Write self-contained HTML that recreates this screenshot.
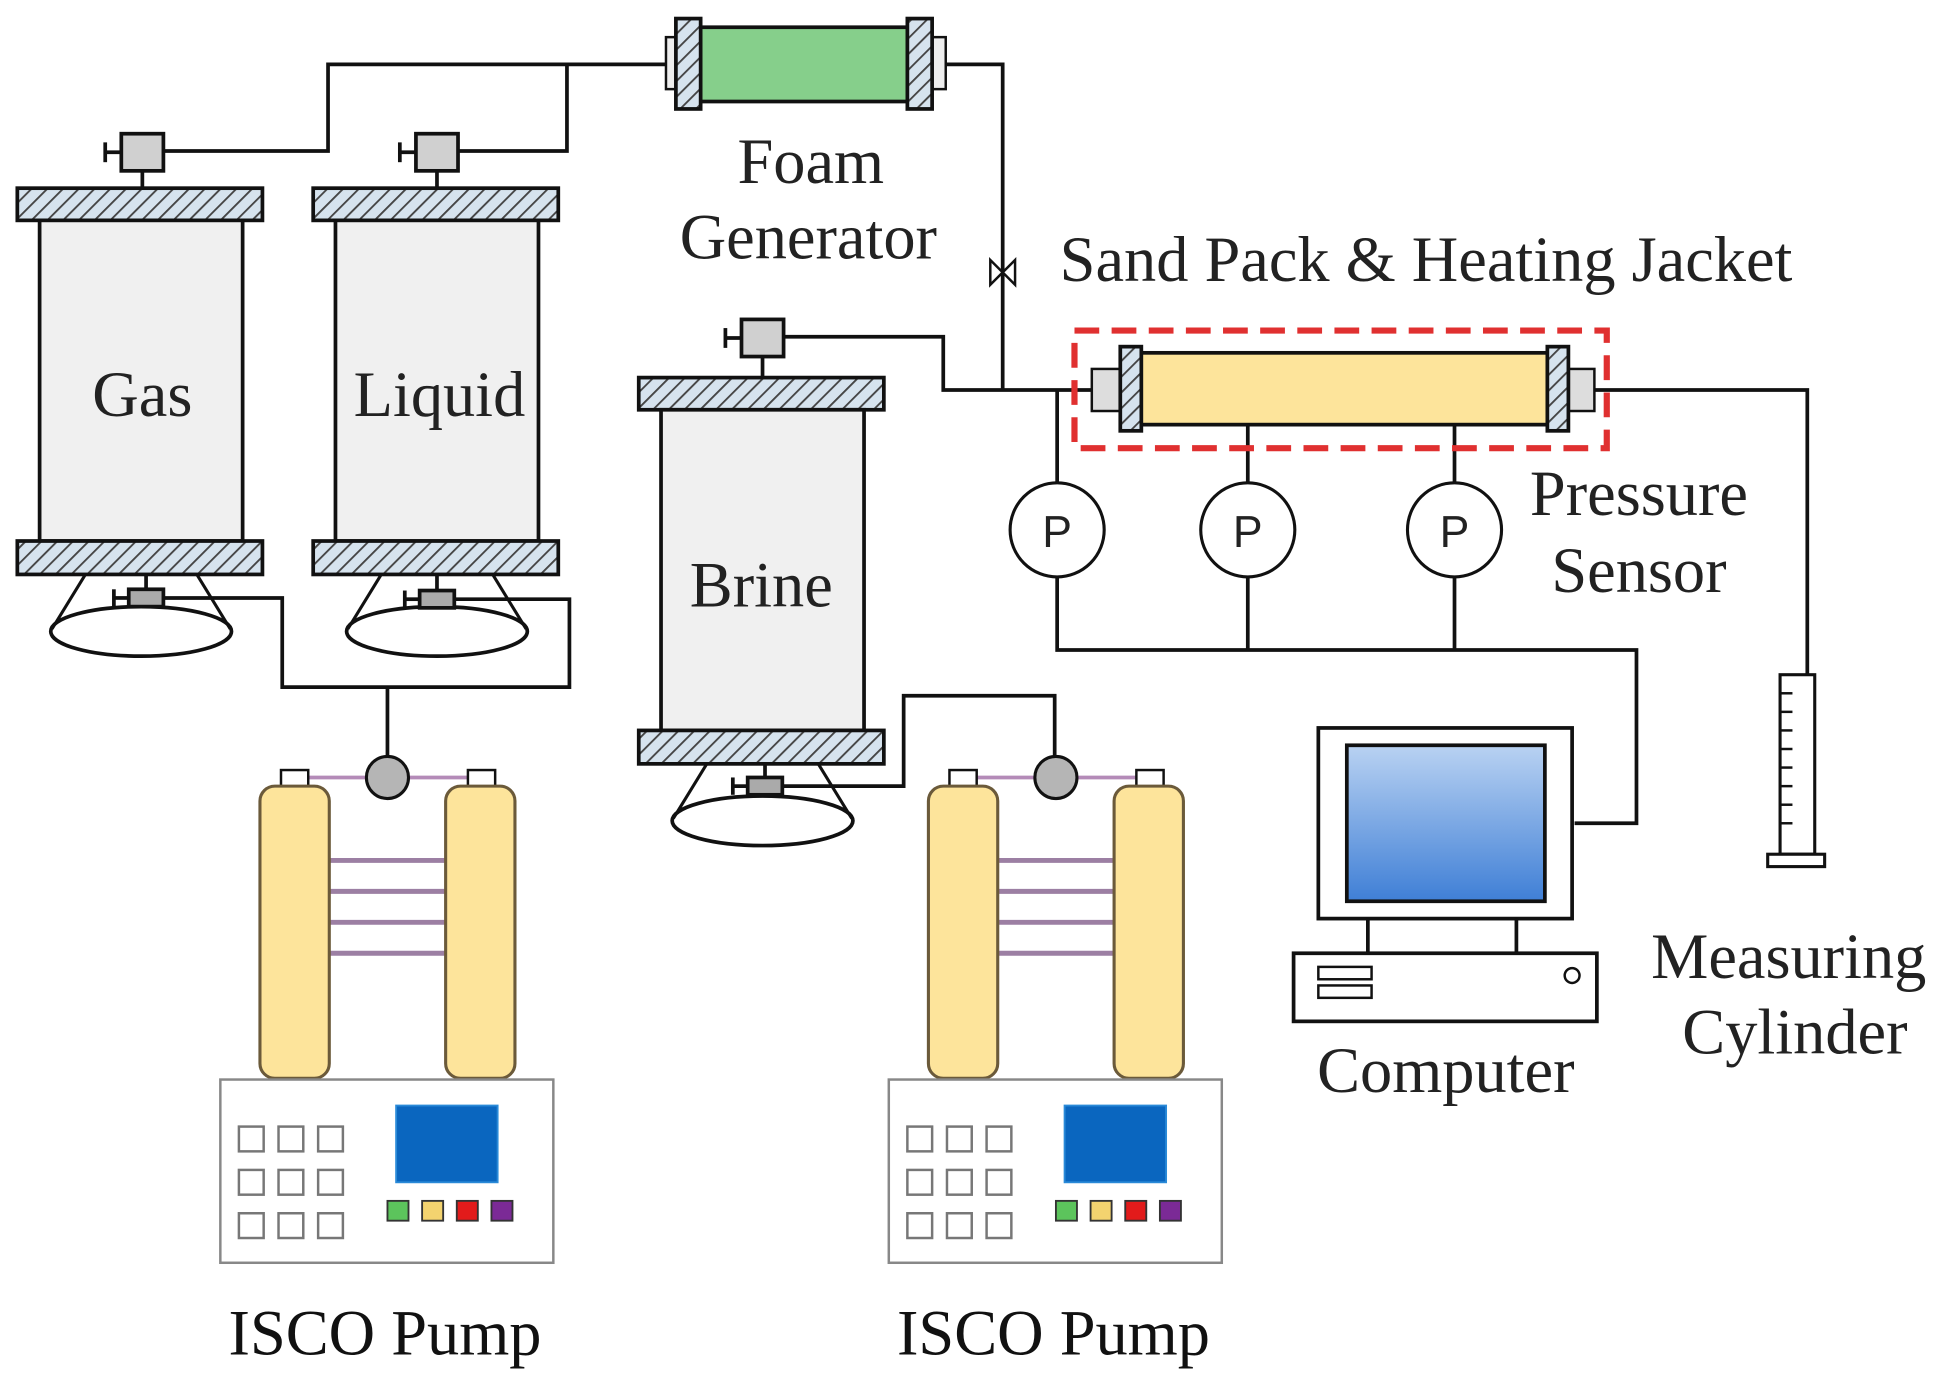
<!DOCTYPE html>
<html><head><meta charset="utf-8"><style>html,body{margin:0;padding:0;background:#fff}svg{display:block}</style></head><body>
<svg width="1941" height="1394" viewBox="0 0 1568 1126" preserveAspectRatio="none" xmlns="http://www.w3.org/2000/svg" font-family="Liberation Serif, serif" fill="none" stroke="#111" stroke-width="3">
<defs>
<pattern id="h" width="9" height="9" patternUnits="userSpaceOnUse" patternTransform="rotate(45)">
<rect width="9" height="9" fill="#d6e3ee" stroke="none"/><line x1="0" y1="0" x2="0" y2="9" stroke="#444" stroke-width="3"/></pattern>
<linearGradient id="scr" x1="0" y1="0" x2="0" y2="1"><stop offset="0" stop-color="#b9d2f2"/><stop offset="1" stop-color="#3f7fd6"/></linearGradient>
<g id="valve"><line x1="-30" y1="0" x2="-17" y2="0"/><line x1="-30" y1="-8" x2="-30" y2="8"/><rect x="-17" y="-15" width="34" height="30" fill="#d0d0d0"/></g>
<g id="svalve"><line x1="-26" y1="0" x2="-14" y2="0"/><line x1="-26" y1="-7" x2="-26" y2="7"/><rect x="-14" y="-7" width="28" height="14" fill="#aaa"/></g>
<g id="pump">
<line x1="227" y1="628" x2="400" y2="628" stroke="#b48bb8" stroke-width="3"/>
<rect x="227" y="622" width="22" height="16" fill="#fff" stroke-width="2"/><rect x="378" y="622" width="22" height="16" fill="#fff" stroke-width="2"/>
<circle cx="313" cy="628" r="17" fill="#b5b5b5" stroke-width="2.5"/>
<g stroke="#9c7fa3" stroke-width="4"><line x1="265" y1="695" x2="360" y2="695"/><line x1="265" y1="720" x2="360" y2="720"/><line x1="265" y1="745" x2="360" y2="745"/><line x1="265" y1="770" x2="360" y2="770"/></g>
<rect x="210" y="635" width="56" height="236" rx="12" fill="#fde49b" stroke="#6b5a3a" stroke-width="2.5"/>
<rect x="360" y="635" width="56" height="236" rx="12" fill="#fde49b" stroke="#6b5a3a" stroke-width="2.5"/>
<rect x="178" y="872" width="269" height="148" fill="#fff" stroke="#888" stroke-width="2"/>
<g stroke="#777" stroke-width="2" fill="#fff">
<rect x="193" y="910" width="20" height="20"/><rect x="225" y="910" width="20" height="20"/><rect x="257" y="910" width="20" height="20"/>
<rect x="193" y="945" width="20" height="20"/><rect x="225" y="945" width="20" height="20"/><rect x="257" y="945" width="20" height="20"/>
<rect x="193" y="980" width="20" height="20"/><rect x="225" y="980" width="20" height="20"/><rect x="257" y="980" width="20" height="20"/></g>
<rect x="320" y="893" width="82" height="62" fill="#0a66bf" stroke="#2a8ad8" stroke-width="1.5"/>
<g stroke="#333" stroke-width="1.5"><rect x="313" y="970" width="17" height="16" fill="#5cc45c"/><rect x="341" y="970" width="17" height="16" fill="#f3d36f"/><rect x="369" y="970" width="17" height="16" fill="#e21b1b"/><rect x="397" y="970" width="17" height="16" fill="#7b2a96"/></g>
<text x="311" y="1094" font-size="52" fill="#111" stroke="none" text-anchor="middle">ISCO Pump</text>
</g>
<g id="vessel">
<rect x="-100" y="0" width="198" height="26" fill="url(#h)"/>
<rect x="-82" y="26" width="164" height="259" fill="#f0f0f0"/>
<rect x="-100" y="285" width="198" height="27" fill="url(#h)"/>
<path d="M-45 312 L-72 356 M45 312 L72 356" stroke-width="2.5"/>
<ellipse cx="0" cy="358" rx="73" ry="20" stroke-width="3"/>
</g>
</defs>

<!-- piping -->
<path d="M545 52 H265 V122 H133 M458 52 V122 H370 M762 52 H810 V315 H882 M632 272 H762 V315 H810"/>
<path d="M130 483 H228 V555 H460 V484 H366 M313 555 V612"/>
<path d="M632 635 H730 V562 H852 V612"/>
<path d="M1288 315 H1460 V545 M854 390 V315 M1008 390 V343 M1175 390 V343 M854 466 V525 H1322 V665 H1272 M1008 466 V525 M1175 466 V525"/>

<!-- vessels -->
<use href="#vessel" transform="translate(114,152)"/>
<use href="#vessel" transform="translate(353,152)"/>
<use href="#vessel" transform="translate(616,305)"/>
<line x1="115" y1="138" x2="115" y2="152"/><line x1="353" y1="138" x2="353" y2="152"/><line x1="616" y1="288" x2="616" y2="305"/>
<line x1="118" y1="464" x2="118" y2="477"/><line x1="353" y1="464" x2="353" y2="477"/><line x1="618" y1="618" x2="618" y2="628"/>
<use href="#valve" transform="translate(115,123)"/>
<use href="#valve" transform="translate(353,123)"/>
<use href="#valve" transform="translate(616,273)"/>
<use href="#svalve" transform="translate(118,483)"/>
<use href="#svalve" transform="translate(353,484)"/>
<use href="#svalve" transform="translate(618,635)"/>
<g fill="#222" stroke="none" font-size="52" text-anchor="middle">
<text x="115" y="336">Gas</text><text x="355" y="336">Liquid</text><text x="615" y="490">Brine</text></g>

<!-- foam generator -->
<rect x="538" y="30" width="12" height="42" fill="#eee" stroke-width="2"/>
<rect x="752" y="30" width="12" height="42" fill="#eee" stroke-width="2"/>
<rect x="555" y="22" width="185" height="60" fill="#86cf8b"/>
<rect x="546" y="15" width="20" height="73" fill="url(#h)"/>
<rect x="733" y="15" width="20" height="73" fill="url(#h)"/>
<path d="M800 210 L820 230 L820 210 L800 230 Z" fill="#fff" stroke-width="2"/>

<!-- sand pack -->
<rect x="882" y="298" width="24" height="34" fill="#ddd" stroke-width="2"/>
<rect x="1266" y="298" width="22" height="34" fill="#ddd" stroke-width="2"/>
<rect x="920" y="285" width="330" height="58" fill="#fde49b"/>
<rect x="905" y="280" width="17" height="68" fill="url(#h)"/>
<rect x="1250" y="280" width="17" height="68" fill="url(#h)"/>
<rect x="868" y="267" width="430" height="95" stroke="#e03030" stroke-width="5" stroke-dasharray="20 10"/>

<!-- sensors -->
<g fill="#fff" stroke-width="2.5"><circle cx="854" cy="428" r="38"/><circle cx="1008" cy="428" r="38"/><circle cx="1175" cy="428" r="38"/></g>
<g fill="#222" stroke="none" font-family="Liberation Sans, sans-serif" font-size="36" text-anchor="middle">
<text x="854" y="442">P</text><text x="1008" y="442">P</text><text x="1175" y="442">P</text></g>

<!-- computer -->
<rect x="1065" y="588" width="205" height="154" fill="#fff"/>
<rect x="1088" y="602" width="160" height="126" fill="url(#scr)"/>
<path d="M1105 742 V770 M1225 742 V770"/>
<rect x="1045" y="770" width="245" height="55" fill="#fff"/>
<rect x="1065" y="781" width="43" height="10" stroke-width="2"/><rect x="1065" y="796" width="43" height="10" stroke-width="2"/>
<circle cx="1270" cy="788" r="6" stroke-width="2"/>

<!-- measuring cylinder -->
<rect x="1438" y="545" width="28" height="145" fill="#fff" stroke-width="2.5"/>
<g stroke-width="2"><line x1="1438" y1="560" x2="1448" y2="560"/><line x1="1438" y1="575" x2="1448" y2="575"/><line x1="1438" y1="590" x2="1448" y2="590"/><line x1="1438" y1="605" x2="1448" y2="605"/><line x1="1438" y1="620" x2="1448" y2="620"/><line x1="1438" y1="635" x2="1448" y2="635"/><line x1="1438" y1="650" x2="1448" y2="650"/><line x1="1438" y1="665" x2="1448" y2="665"/></g>
<rect x="1428" y="690" width="46" height="10" fill="#fff" stroke-width="2.5"/>

<!-- pumps -->
<use href="#pump"/>
<use href="#pump" transform="translate(540,0)"/>

<!-- labels -->
<g fill="#222" stroke="none" font-size="52" text-anchor="middle">
<text x="655" y="148">Foam</text><text x="653" y="209">Generator</text>
<text x="1152" y="227">Sand Pack &amp; Heating Jacket</text>
<text x="1324" y="416">Pressure</text><text x="1324" y="478">Sensor</text>
<text x="1445" y="790">Measuring</text><text x="1450" y="851">Cylinder</text>
<text x="1168" y="882">Computer</text>
</g>
</svg>
</body></html>
